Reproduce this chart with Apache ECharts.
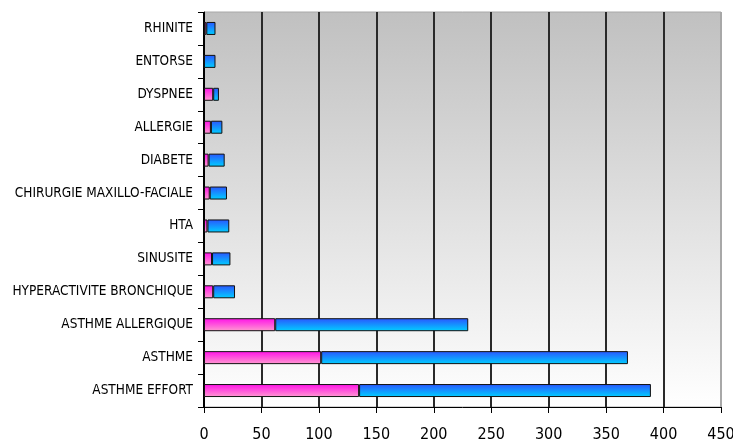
<!DOCTYPE html>
<html>
<head>
<meta charset="utf-8">
<script src="https://cdn.jsdelivr.net/npm/echarts@6/dist/echarts.min.js"></script>
<style>
  html, body { margin: 0; padding: 0; background: #ffffff; }
  #chart { width: 733px; height: 444px; }
</style>
</head>
<body>
<div id="chart"></div>
<script>
// Diagnoses, top to bottom
const categories = [
  'RHINITE', 'ENTORSE', 'DYSPNEE', 'ALLERGIE', 'DIABETE',
  'CHIRURGIE MAXILLO-FACIALE', 'HTA', 'SINUSITE',
  'HYPERACTIVITE BRONCHIQUE', 'ASTHME ALLERGIQUE', 'ASTHME', 'ASTHME EFFORT'
];
// First (pink) segment of each stacked bar
const pinkValues = [2, 0, 8, 6, 4, 5, 3, 7, 8, 62, 102, 135];
// Second (blue) segment of each stacked bar
const blueValues = [8, 10, 5, 10, 14, 15, 19, 16, 19, 168, 267, 254];
// Value axis ticks
const xTicks = [0, 50, 100, 150, 200, 250, 300, 350, 400, 450];

const FONT = '"DejaVu Sans Condensed", "Liberation Sans Narrow", sans-serif';

const vGrad = (top, bottom) => new echarts.graphic.LinearGradient(0, 0, 0, 1, [
  { offset: 0, color: top },
  { offset: 1, color: bottom }
]);

const chart = echarts.init(document.getElementById('chart'), null, { renderer: 'canvas' });

chart.setOption({
  animation: false,
  backgroundColor: '#ffffff',
  grid: {
    left: 204, right: 12, top: 12, bottom: 37,
    outerBoundsMode: 'none',
    containLabel: false,
    show: true,
    borderColor: '#a8a8a8',
    borderWidth: 1,
    backgroundColor: vGrad('#c0c0c0', '#ffffff')
  },
  xAxis: {
    type: 'value',
    min: xTicks[0],
    max: xTicks[xTicks.length - 1],
    interval: 50,
    axisLine: { show: true, lineStyle: { color: '#000000', width: 1 } },
    axisTick: { show: true, length: 6, lineStyle: { color: '#000000' } },
    axisLabel: { color: '#000000', fontFamily: FONT, fontSize: 16, margin: 20 },
    splitLine: {
      show: true,
      lineStyle: {
        width: 2,
        color: ['#000000', '#2a2a2a', '#2a2a2a', '#2a2a2a', '#2a2a2a', '#2a2a2a', '#2a2a2a', '#2a2a2a', '#2a2a2a', '#a8a8a8']
      }
    }
  },
  yAxis: {
    type: 'category',
    data: categories,
    inverse: true,
    axisLine: { show: true, lineStyle: { color: '#000000', width: 1 } },
    axisTick: { show: true, length: 6, lineStyle: { color: '#000000' } },
    axisLabel: { color: '#000000', fontFamily: FONT, fontSize: 13.5, margin: 11 },
    splitLine: { show: false }
  },
  series: [
    {
      type: 'bar',
      stack: 'total',
      data: pinkValues,
      barWidth: 13,
      itemStyle: {
        color: vGrad('#ff10e8', '#ff9ad0'),
        borderColor: '#111111',
        borderWidth: 1
      }
    },
    {
      type: 'bar',
      stack: 'total',
      data: blueValues,
      barWidth: 13,
      itemStyle: {
        color: vGrad('#2a55ff', '#00d0ff'),
        borderColor: '#111111',
        borderWidth: 1
      }
    }
  ]
});
</script>
</body>
</html>
